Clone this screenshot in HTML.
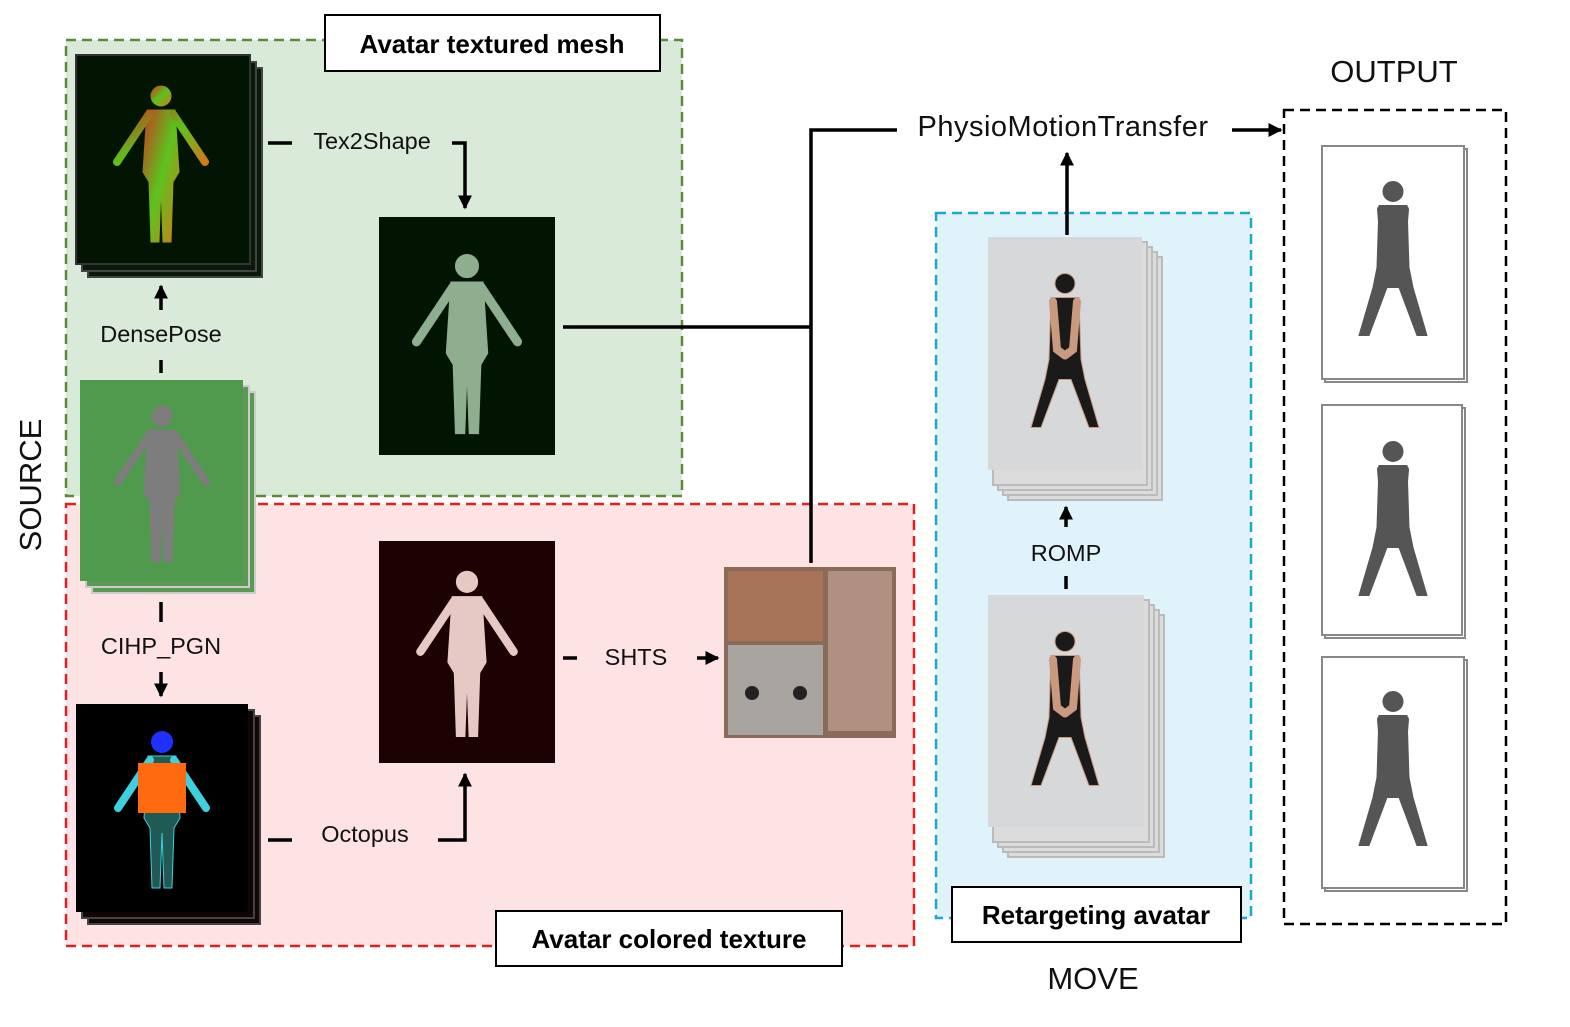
<!DOCTYPE html>
<html><head><meta charset="utf-8"><style>
body{margin:0;background:#fff;}
svg{display:block;font-family:"Liberation Sans","DejaVu Sans",sans-serif;}
</style></head><body>
<svg width="1570" height="1027" viewBox="0 0 1570 1027" xmlns="http://www.w3.org/2000/svg">
<defs>
<symbol id="p" viewBox="0 0 100 170">
<circle cx="50" cy="14" r="10"/>
<path d="M36 28 H64 L68 90 L62 100 L60 160 H52 L50 105 L48 160 H40 L38 100 L32 90 Z"/>
<path d="M38 32 L6 80 M62 32 L94 80" stroke-width="8" stroke-linecap="round" fill="none"/>
</symbol>
<symbol id="s" viewBox="0 0 100 170">
<circle cx="50" cy="14" r="10"/>
<path d="M36 28 H64 L66 90 L70 110 L84 158 H74 L56 110 H44 L26 158 H16 L30 110 L34 90 Z"/>
<path d="M38 32 L42 80 L50 86 M62 32 L58 80 L50 86" stroke-width="8" stroke-linecap="round" fill="none"/>
</symbol>
<linearGradient id="dp" x1="0" y1="0" x2="1" y2="1"><stop offset="0" stop-color="#c83a1e"/><stop offset=".5" stop-color="#5cc21e"/><stop offset="1" stop-color="#d07a1a"/></linearGradient>
<marker id="a" viewBox="0 0 10 10" refX="9" refY="5" markerWidth="4" markerHeight="4" orient="auto"><path d="M0 0 L10 5 L0 10 Z" fill="#000"/></marker>
</defs>

<rect x="66" y="40" width="616" height="456" fill="#d9ead8" stroke="#5a8a3a" stroke-width="2.5" stroke-dasharray="10 6"/>
<rect x="66" y="504" width="848" height="442" fill="#fde3e3" stroke="#e02020" stroke-width="2.5" stroke-dasharray="10 6"/>
<rect x="936" y="213" width="315" height="705" fill="#e1f3fa" stroke="#1aa7d0" stroke-width="2.5" stroke-dasharray="10 6"/>
<rect x="1284" y="110" width="222" height="814" fill="#fff" stroke="#000" stroke-width="2.5" stroke-dasharray="10 6"/>

<rect x="88" y="68" width="174" height="209" fill="#0a1a08" stroke="#444" stroke-width="2"/>
<rect x="82" y="62" width="174" height="209" fill="#0a1a08" stroke="#444" stroke-width="2"/>
<rect x="76" y="55" width="174" height="209" fill="#021402" stroke="#333" stroke-width="2"/>
<use href="#p" x="93" y="82" width="136" height="170" fill="url(#dp)" stroke="url(#dp)"/>

<rect x="92" y="392" width="163" height="201" fill="#5a9a55" stroke="#ccc" stroke-width="2"/>
<rect x="86" y="386" width="163" height="201" fill="#5a9a55" stroke="#ccc" stroke-width="2"/>
<rect x="80" y="380" width="163" height="201" fill="#4f9a4c"/>
<use href="#p" x="92" y="402" width="140" height="170" fill="#7d7d7d" stroke="#7d7d7d"/>

<rect x="88" y="716" width="172" height="208" fill="#100606" stroke="#444" stroke-width="2"/>
<rect x="82" y="710" width="172" height="208" fill="#100606" stroke="#444" stroke-width="2"/>
<rect x="76" y="704" width="172" height="208" fill="#000"/>
<use href="#p" x="92" y="728" width="140" height="170" fill="#1f5a55" stroke="#3fd0e0"/>
<rect x="138" y="763" width="48" height="50" fill="#ff6a10"/>
<circle cx="162" cy="742" r="11" fill="#2030ff"/>

<rect x="379" y="217" width="176" height="238" fill="#021402"/>
<use href="#p" x="387" y="250" width="160" height="195" fill="#8fae90" stroke="#8fae90"/>
<rect x="379" y="541" width="176" height="222" fill="#1c0202"/>
<use href="#p" x="395" y="567" width="144" height="180" fill="#e6c8c4" stroke="#e6c8c4"/>

<rect x="724" y="567" width="172" height="171" fill="#8a6a58"/>
<rect x="728" y="571" width="95" height="70" fill="#a87458"/>
<rect x="728" y="645" width="95" height="90" fill="#a8a4a0"/>
<rect x="828" y="571" width="64" height="160" fill="#b09080"/>
<circle cx="752" cy="693" r="7" fill="#222"/><circle cx="800" cy="693" r="7" fill="#222"/>

<g fill="#dcdcdc" stroke="#bbb" stroke-width="2">
<rect x="1008" y="257" width="154" height="243"/><rect x="1003" y="252" width="154" height="243"/><rect x="998" y="247" width="154" height="243"/><rect x="993" y="242" width="154" height="243"/>
<rect x="1008" y="615" width="156" height="242"/><rect x="1003" y="610" width="156" height="242"/><rect x="998" y="605" width="156" height="242"/><rect x="993" y="600" width="156" height="242"/>
</g>
<rect x="988" y="237" width="154" height="233" fill="#d6d8d9"/>
<rect x="988" y="595" width="156" height="232" fill="#d6d8d9"/>
<use href="#s" x="1015" y="252" width="100" height="205" fill="#1a1a1a" stroke="#c99a80"/>
<use href="#s" x="1015" y="610" width="100" height="205" fill="#1a1a1a" stroke="#c99a80"/>

<g fill="#fff" stroke="#888" stroke-width="2">
<rect x="1325" y="149" width="142" height="233"/><rect x="1322" y="146" width="142" height="233"/>
<rect x="1325" y="408" width="140" height="230"/><rect x="1322" y="405" width="140" height="230"/>
<rect x="1325" y="660" width="142" height="231"/><rect x="1322" y="657" width="142" height="231"/>
</g>
<use href="#s" x="1343" y="160" width="100" height="205" fill="#555" stroke="#555"/>
<use href="#s" x="1343" y="435" width="100" height="175" fill="#555" stroke="#555"/>
<use href="#s" x="1343" y="675" width="100" height="195" fill="#555" stroke="#555"/>

<g stroke="#000" stroke-width="3.5" fill="none">
<path d="M268 143 H292"/>
<path d="M452 143 H465 V208" marker-end="url(#a)"/>
<path d="M161 310 V286" marker-end="url(#a)"/>
<path d="M161 360 V373"/>
<path d="M161 602 V622"/>
<path d="M161 672 V696" marker-end="url(#a)"/>
<path d="M268 840 H292"/>
<path d="M438 840 H465 V774" marker-end="url(#a)"/>
<path d="M563 658 H577"/>
<path d="M697 658 H718" marker-end="url(#a)"/>
<path d="M563 327 H811 M811 563 V130 H897"/>
<path d="M1232 130 H1281" marker-end="url(#a)"/>
<path d="M1067 235 V153" marker-end="url(#a)"/>
<path d="M1066 527 V507" marker-end="url(#a)"/>
<path d="M1066 576 V589"/>
</g>

<g font-size="23.5" fill="#111" text-anchor="middle">
<text x="372" y="149">Tex2Shape</text>
<text x="161" y="342">DensePose</text>
<text x="161" y="654">CIHP_PGN</text>
<text x="365" y="842">Octopus</text>
<text x="636" y="665">SHTS</text>
<text x="1066" y="561">ROMP</text>
<text x="1063" y="136" font-size="29" letter-spacing="0.5">PhysioMotionTransfer</text>
<text x="1394" y="82" font-size="31">OUTPUT</text>
<text x="1093" y="989" font-size="31">MOVE</text>
<text x="0" y="0" font-size="31" transform="translate(41 485) rotate(-90)">SOURCE</text>
</g>

<g font-size="26" font-weight="bold" text-anchor="middle" fill="#000">
<rect x="325" y="15" width="335" height="56" fill="#fff" stroke="#000" stroke-width="2"/>
<text x="492" y="53">Avatar textured mesh</text>
<rect x="496" y="911" width="346" height="55" fill="#fff" stroke="#000" stroke-width="2"/>
<text x="669" y="948">Avatar colored texture</text>
<rect x="952" y="887" width="289" height="55" fill="#fff" stroke="#000" stroke-width="2"/>
<text x="1096" y="924">Retargeting avatar</text>
</g>
</svg>
</body></html>
